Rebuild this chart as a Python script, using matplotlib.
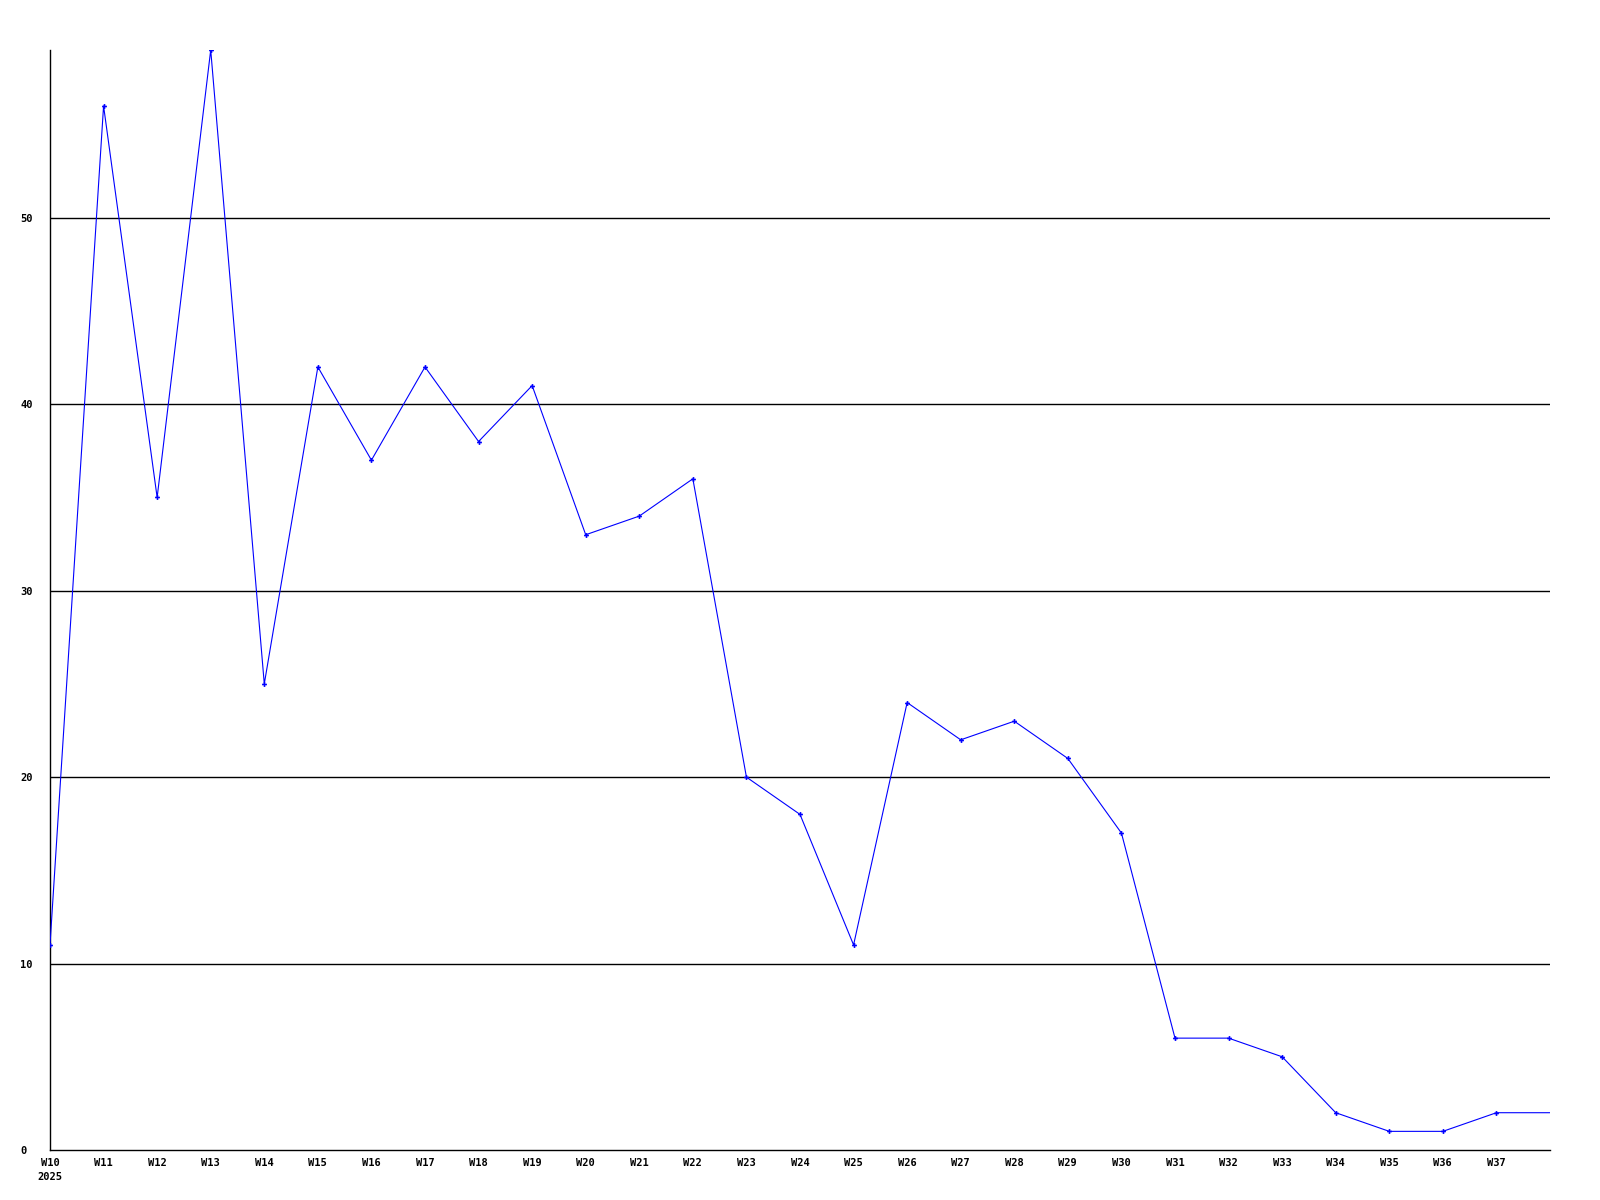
import matplotlib
matplotlib.use("Agg")
import matplotlib.pyplot as plt

weeks = ["W10", "W11", "W12", "W13", "W14", "W15", "W16", "W17", "W18", "W19",
         "W20", "W21", "W22", "W23", "W24", "W25", "W26", "W27", "W28", "W29",
         "W30", "W31", "W32", "W33", "W34", "W35", "W36", "W37"]
values = [11, 56, 35, 59, 25, 42, 37, 42, 38, 41,
          33, 34, 36, 20, 18, 11, 24, 22, 23, 21,
          17, 6, 6, 5, 2, 1, 1, 2]
tail_value = 2  # line continues to right edge
yticks = [0, 10, 20, 30, 40, 50]

fig = plt.figure(figsize=(16, 12), dpi=100)
ax = fig.add_axes([50/1600, 1 - 1150/1200, 1500/1600, 1100/1200])

n = len(weeks)
xs = list(range(n))
ax.plot(xs + [n], values + [tail_value], color=(0, 0, 1), lw=0.8, zorder=3)
ax.plot(xs, values, linestyle="none", marker="P", markersize=3.5,
        color=(0, 0, 1), markeredgewidth=0, zorder=4)

ax.set_xlim(0, n)
ax.set_ylim(0, 59)
for y in yticks[1:]:
    ax.axhline(y, color="black", lw=1, zorder=1)

for s in ["top", "right"]:
    ax.spines[s].set_visible(False)
for s in ["left", "bottom"]:
    ax.spines[s].set_linewidth(1.0)
    ax.spines[s].set_color("black")

ax.set_yticks(yticks)
ax.set_yticklabels([str(v) for v in yticks], family="DejaVu Sans Mono",
                   fontweight="bold", fontsize=7.5, ha="left")
ax.tick_params(axis="y", length=0, pad=21.5)
ax.set_xticks(xs)
ax.set_xticklabels(weeks, family="DejaVu Sans Mono", fontweight="bold", fontsize=7.5)
ax.tick_params(axis="x", length=0, pad=6)
ax.text(0, -0.02, "2025", transform=ax.get_xaxis_transform(), ha="center", va="top",
        family="DejaVu Sans Mono", fontweight="bold", fontsize=7.5)

fig.savefig("out.png", dpi=100)
